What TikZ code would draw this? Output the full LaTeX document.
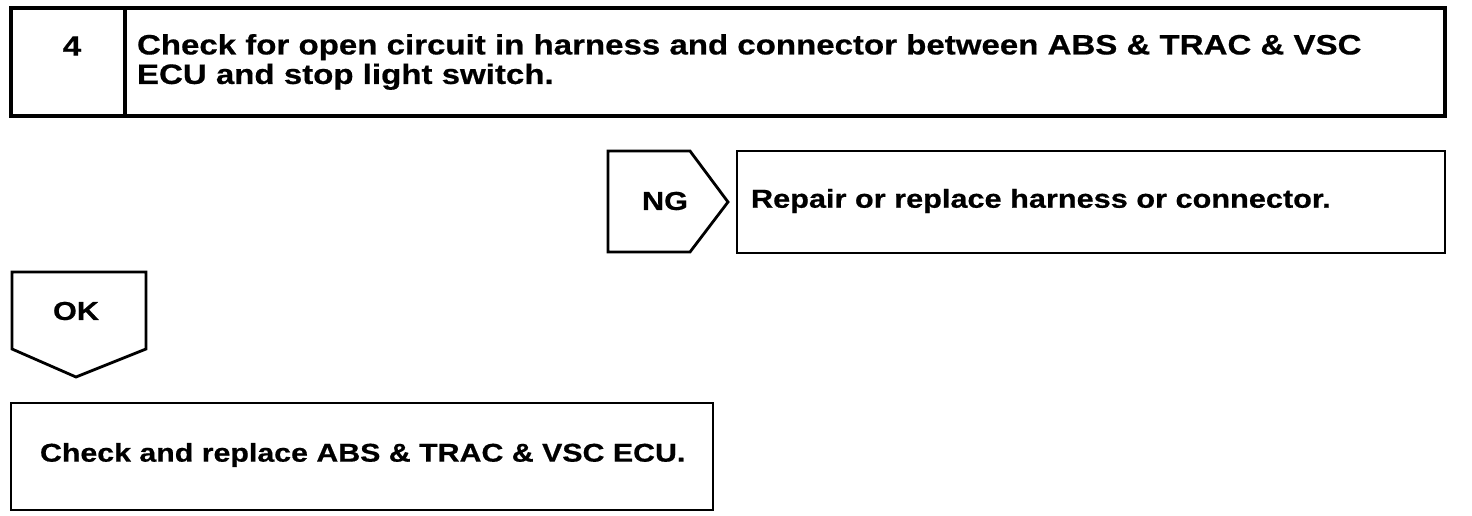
\documentclass[tikz,border=0pt]{standalone}
\usepackage{fontspec}
\setmainfont{Liberation Sans}
\newfontfamily\widefont{Liberation Sans Bold}[FakeStretch=1.18, FakeBold=0.6]
\usepackage{tikz}

\begin{document}
\begin{tikzpicture}[x=1pt, y=-1pt]
\tikzset{ >=latex, inner sep=0pt, outer sep=0pt,
  boxline/.style={draw=black, line width=2.8pt, line join=miter},
  txt/.style={font=\fontsize{26}{30}\widefont, anchor=west, align=left},
  bigtxt/.style={txt, font=\fontsize{28}{29.5}\widefont},
}

\useasboundingbox (0,0) rectangle (1472,516);

%\draw [lightgray, dashed](0,0) grid[step=100] (1472,516);

% passo 4
\draw [boxline, line width=3.2pt] (11,8) rectangle (1445,116);
\draw [boxline, line width=3.2pt] (125,8) -- (125,116);
\node [bigtxt, anchor=center] (num) at (72,46) {4};
\node [bigtxt] (title) at (137,62) {Check for open circuit in harness and connector between ABS \& TRAC \& VSC\\ECU and stop light switch.};

% NG
\draw [boxline] (608,151) -- (690,151) -- (728,202) -- (690,252) -- (608,252) -- cycle;
\node [txt, anchor=center] (ng) at (665,201) {NG};
\draw [boxline] (737,151) rectangle (1445,253);
\node [txt] (repair) at (751,201) {Repair or replace harness or connector.};

% OK
\draw [boxline] (12,272) -- (146,272) -- (146,349) -- (76,377) -- (12,349) -- cycle;
\node [txt, anchor=center] (ok) at (76,311) {OK};

% ECU
\draw [boxline] (11,403) rectangle (713,510);
\node [txt, font=\fontsize{25.7}{30}\widefont] (ecu) at (40,455) {Check and replace ABS \& TRAC \& VSC ECU.};

\end{tikzpicture}
\end{document}
